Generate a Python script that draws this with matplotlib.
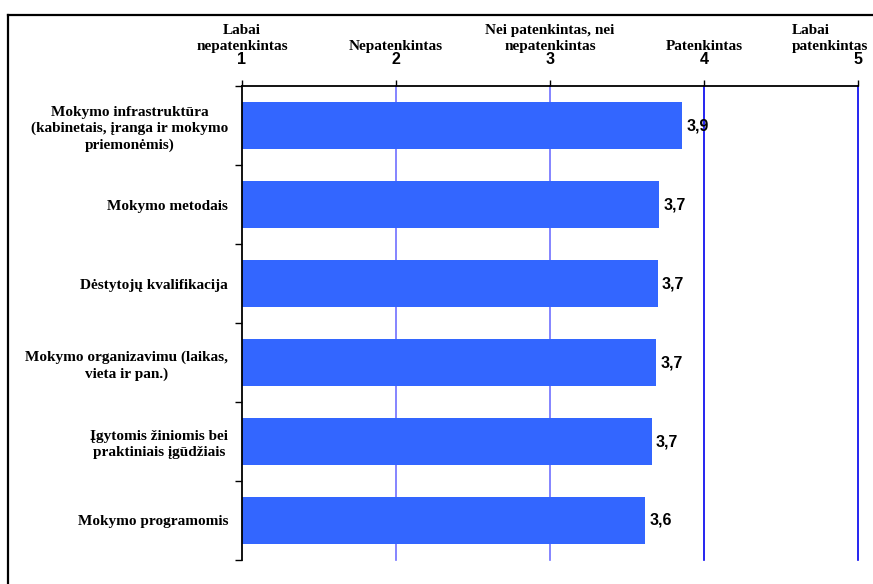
import matplotlib
matplotlib.use('Agg')
from matplotlib import pyplot as plt
from matplotlib.lines import Line2D

categories = ['Mokymo infrastruktūra\n(kabinetais, įranga ir mokymo\npriemonėmis)',
              'Mokymo metodais',
              'Dėstytojų kvalifikacija',
              'Mokymo organizavimu (laikas,\nvieta ir pan.)',
              'Įgytomis žiniomis bei\npraktiniais įgūdžiais',
              'Mokymo programomis']
values = [3.86, 3.71, 3.70, 3.69, 3.66, 3.62]

scale_ticks = [1, 2, 3, 4, 5]
scale_names = ['Labai\nnepatenkintas', 'Nepatenkintas', 'Nei patenkintas, nei\nnepatenkintas',
               'Patenkintas', 'Labai\npatenkintas']

serif = 'Liberation Serif'
sans = 'Liberation Sans'

fig = plt.figure(figsize=(8.73, 5.84), dpi=100)
ax = fig.add_axes([0.2772, 0.0411, 0.7056, 0.8116])

n = len(categories)
ypos = list(range(n))
ax.barh(ypos, [v - 1 for v in values], left=1, height=0.6, color='#3366FF', zorder=3)
ax.set_xlim(1, 5)
ax.set_ylim(n - 0.5, -0.5)

# grid lines
for x, c in zip([2, 3, 4, 5], ['#7070ff', '#7070ff', '#0000ee', '#0000ee']):
    ax.axvline(x, color=c, lw=1.2, zorder=1, clip_on=False)

# value labels
for y, v in zip(ypos, values):
    ax.text(v + 0.025, y, f'{v:.1f}'.replace('.', ','), va='center', ha='left',
            fontsize=11.5, fontweight='bold', family=sans, zorder=4)

# top axis
ax.xaxis.tick_top()
ax.set_xticks(scale_ticks)
ax.set_xticklabels([str(t) for t in scale_ticks], fontsize=11.5, fontweight='bold', family=sans)
ax.tick_params(axis='x', direction='out', length=4, width=1, pad=9.5)

# y axis: ticks on category boundaries, labels at centers
ax.set_yticks(ypos)
ax.set_yticklabels(categories, fontsize=11, fontweight='bold', family=serif,
                   multialignment='center', linespacing=1.3)
ax.tick_params(axis='y', which='major', length=0, pad=10)
ax.set_yticks([i - 0.5 for i in range(n + 1)], minor=True)
ax.tick_params(axis='y', which='minor', direction='out', length=5, width=1)

for s in ['right', 'bottom']:
    ax.spines[s].set_visible(False)
for s in ['top', 'left']:
    ax.spines[s].set_linewidth(1.3)
    ax.spines[s].set_zorder(5)

# scale names above the numbers
for t, name in zip(scale_ticks, scale_names):
    if t == 5:
        ax.annotate(name, xy=(4.57, 1), xycoords=('data', 'axes fraction'),
                    xytext=(0, 23.5), textcoords='offset points', ha='left', va='bottom',
                    multialignment='left', linespacing=1.3,
                    fontsize=11, fontweight='bold', family=serif, annotation_clip=False)
    else:
        ax.annotate(name, xy=(t, 1), xycoords=('data', 'axes fraction'),
                    xytext=(0, 23.5), textcoords='offset points', ha='center', va='bottom',
                    multialignment='center', linespacing=1.3,
                    fontsize=11, fontweight='bold', family=serif, annotation_clip=False)

# outer frame
fig.add_artist(Line2D([0.009, 1.0], [0.974, 0.974], transform=fig.transFigure, color='black', lw=1.6))
fig.add_artist(Line2D([0.009, 0.009], [0.0, 0.974], transform=fig.transFigure, color='black', lw=1.6))

fig.savefig('out.png', dpi=100)
